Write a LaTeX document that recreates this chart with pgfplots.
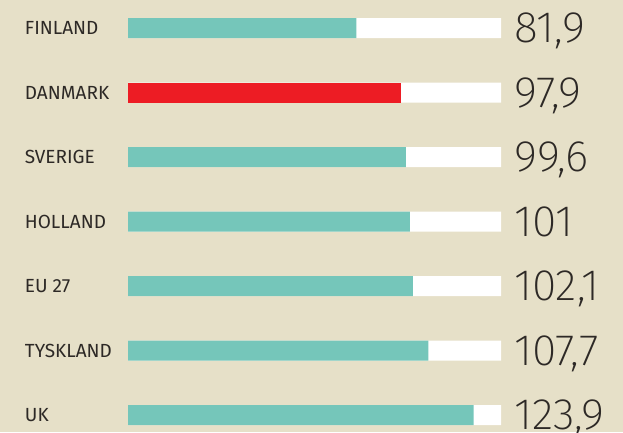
\documentclass[border=0pt]{standalone}
\usepackage{pgfplots}
\pgfplotsset{compat=1.18}
\usepackage{fontspec}
\setmainfont{Fira Sans}
\newfontfamily\numfont{Fira Sans ExtraLight}[FakeStretch=1.01]
\newfontfamily\labfont{Fira Sans}[FakeStretch=1.0]

\definecolor{bg}{RGB}{230,224,200}
\definecolor{teal}{RGB}{117,198,186}
\definecolor{dkred}{RGB}{237,28,36}
\definecolor{ink}{RGB}{45,41,38}

\begin{document}
\begin{tikzpicture}[x=1pt,y=1pt]
\path[use as bounding box] (0,0) rectangle (623,432);
\clip (0,0) rectangle (623,432);
\fill[bg] (0,0) rectangle (623,432);
\begin{axis}[
    at={(128pt,-15.25pt)}, anchor=south west,
    scale only axis,
    width=373pt, height=451.5pt,
    xmin=0, xmax=133.7,
    ymin=-0.5, ymax=6.5,
    enlargelimits=false,
    clip=false,
    axis line style={draw=none},
    tick style={draw=none},
    xtick=\empty,
    ytick={0,...,6},
    yticklabels={UK,TYSKLAND,EU 27,HOLLAND,SVERIGE,DANMARK,FINLAND},
    yticklabel style={anchor=west, inner sep=0pt, xshift=-99pt,
        font=\labfont\fontsize{19}{20}\selectfont, text=ink},
    xbar, bar width=20pt, bar shift=0pt,
    % value labels sit at a fixed column right of the white track
    visualization depends on={x \as \rawx},
    point meta=x,
    nodes near coords={\numfont\fontsize{44}{45}\selectfont
        \pgfmathprintnumber[assume math mode=true,use comma,fixed,precision=1]{\pgfplotspointmeta}},
    every node near coord/.append style={anchor=west, inner sep=0pt,
        text depth=0pt, text=ink,
        xshift={(386-\rawx*2.78983)*1pt}},
]
% white track behind every bar
\addplot[fill=white, draw=none, nodes near coords={}] coordinates {
    (133.7,0) (133.7,1) (133.7,2) (133.7,3) (133.7,4) (133.7,5) (133.7,6)
};
\addplot[fill=teal, draw=none] coordinates {
    (123.9,0) (107.7,1) (102.1,2) (101,3) (99.6,4) (81.9,6)
};
\addplot[fill=dkred, draw=none] coordinates {
    (97.9,5)
};
\end{axis}
\end{tikzpicture}
\end{document}
